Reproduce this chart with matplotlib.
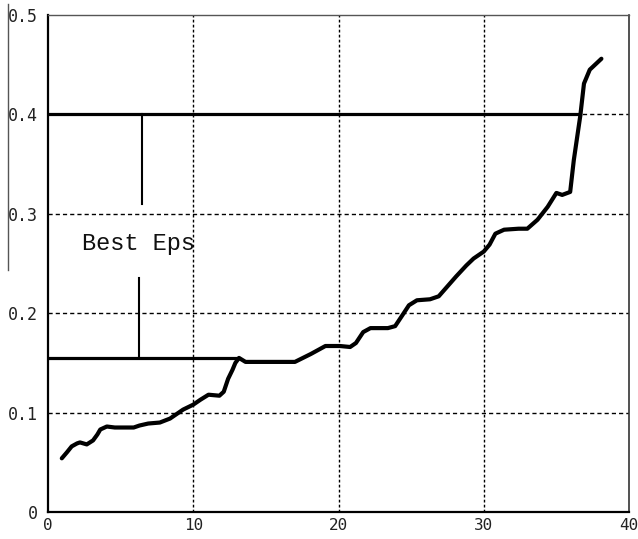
import matplotlib.pyplot as plt
from matplotlib.lines import Line2D

# 曲线数据
eps_x = [0.95, 1.3, 1.63, 2.0, 2.2, 2.67, 3.1, 3.4, 3.6, 4.05, 4.6, 5.9, 6.3, 6.9,
         7.7, 8.4, 9.3, 10.0, 10.5, 11.05, 11.8, 12.1, 12.4, 12.7, 12.9, 13.15,
         13.6, 14.2, 17.0, 18.1, 19.1, 20.1, 20.8, 21.2, 21.7, 22.2, 23.4, 23.9,
         24.4, 24.85, 25.4, 26.3, 26.9, 27.5, 28.1, 28.8, 29.3, 30.0, 30.4, 30.8,
         31.4, 32.4, 33.0, 33.7, 34.4, 35.0, 35.4, 35.95, 36.2, 36.65, 36.9, 37.3,
         38.1]
eps_y = [0.054, 0.060, 0.066, 0.069, 0.070, 0.068, 0.072, 0.078, 0.083, 0.086,
         0.085, 0.085, 0.087, 0.089, 0.090, 0.094, 0.103, 0.108, 0.113, 0.118,
         0.117, 0.121, 0.134, 0.143, 0.150, 0.155, 0.151, 0.151, 0.151, 0.159,
         0.167, 0.167, 0.166, 0.170, 0.181, 0.185, 0.185, 0.187, 0.198, 0.208,
         0.213, 0.214, 0.217, 0.227, 0.237, 0.248, 0.255, 0.262, 0.269, 0.280,
         0.284, 0.285, 0.285, 0.294, 0.307, 0.321, 0.319, 0.322, 0.354, 0.399,
         0.431, 0.445, 0.456]

# Best Eps 区间的上下界
upper_eps = 0.4
upper_end = 36.65
lower_eps = 0.1546
lower_end = 13.1
label_x = 6.2

x_ticks = [0, 10, 20, 30, 40]
y_ticks = [0, 0.1, 0.2, 0.3, 0.4, 0.5]
y_tick_labels = ['0', '0.1', '0.2', '0.3', '0.4', '0.5']

fig = plt.figure(figsize=(6.38, 5.39), dpi=100)
ax = fig.add_axes([48 / 638, 27 / 539, 581 / 638, 497 / 539])

ax.set_xlim(0, 40)
ax.set_ylim(0, 0.5)
ax.set_xticks(x_ticks)
ax.set_xticklabels([str(t) for t in x_ticks])
ax.set_yticks(y_ticks)
ax.set_yticklabels(y_tick_labels)
ax.tick_params(length=0, labelsize=12, colors='#222222')
ax.tick_params(axis='y', pad=7)
ax.tick_params(axis='x', pad=4, labelsize=11.5)
for lab in ax.get_xticklabels() + ax.get_yticklabels():
    lab.set_family('DejaVu Sans Mono')

# 网格线
for gx in [10, 20, 30]:
    ax.axvline(gx, color='black', lw=1.0, ls=(0, (2, 1.6)), zorder=1)
for gy in [0.1, 0.2, 0.3, 0.4]:
    ax.axhline(gy, color='black', lw=1.0, ls=(0, (3, 2.2)), zorder=1)

# 边框
ax.spines['left'].set_linewidth(1.6)
ax.spines['bottom'].set_linewidth(1.6)
ax.spines['top'].set_linewidth(1.0)
ax.spines['top'].set_color('#555555')
ax.spines['right'].set_linewidth(1.2)
ax.spines['right'].set_color('#333333')

# 上下界水平线及连接竖线
ax.plot([0, upper_end], [upper_eps, upper_eps], color='black', lw=2.3, zorder=3)
ax.plot([0, lower_end], [lower_eps, lower_eps], color='black', lw=2.3, zorder=3)
ax.plot([6.46, 6.46], [upper_eps, 0.310], color='black', lw=1.5, zorder=3)
ax.plot([6.28, 6.28], [0.235, lower_eps], color='black', lw=1.5, zorder=3)
ax.text(label_x, 0.2706, 'Best Eps', family='Liberation Mono', fontsize=17,
        ha='center', va='center', color='#111111')

# 主曲线
ax.plot(eps_x, eps_y, color='black', lw=3.0, solid_joinstyle='round',
        solid_capstyle='round', zorder=4)

# 左侧竖线
fig.add_artist(Line2D([8 / 638, 8 / 638], [1 - 4 / 539, 1 - 270 / 539],
                      transform=fig.transFigure, color='#555555', lw=1.0))

fig.savefig('out.png', dpi=100)
